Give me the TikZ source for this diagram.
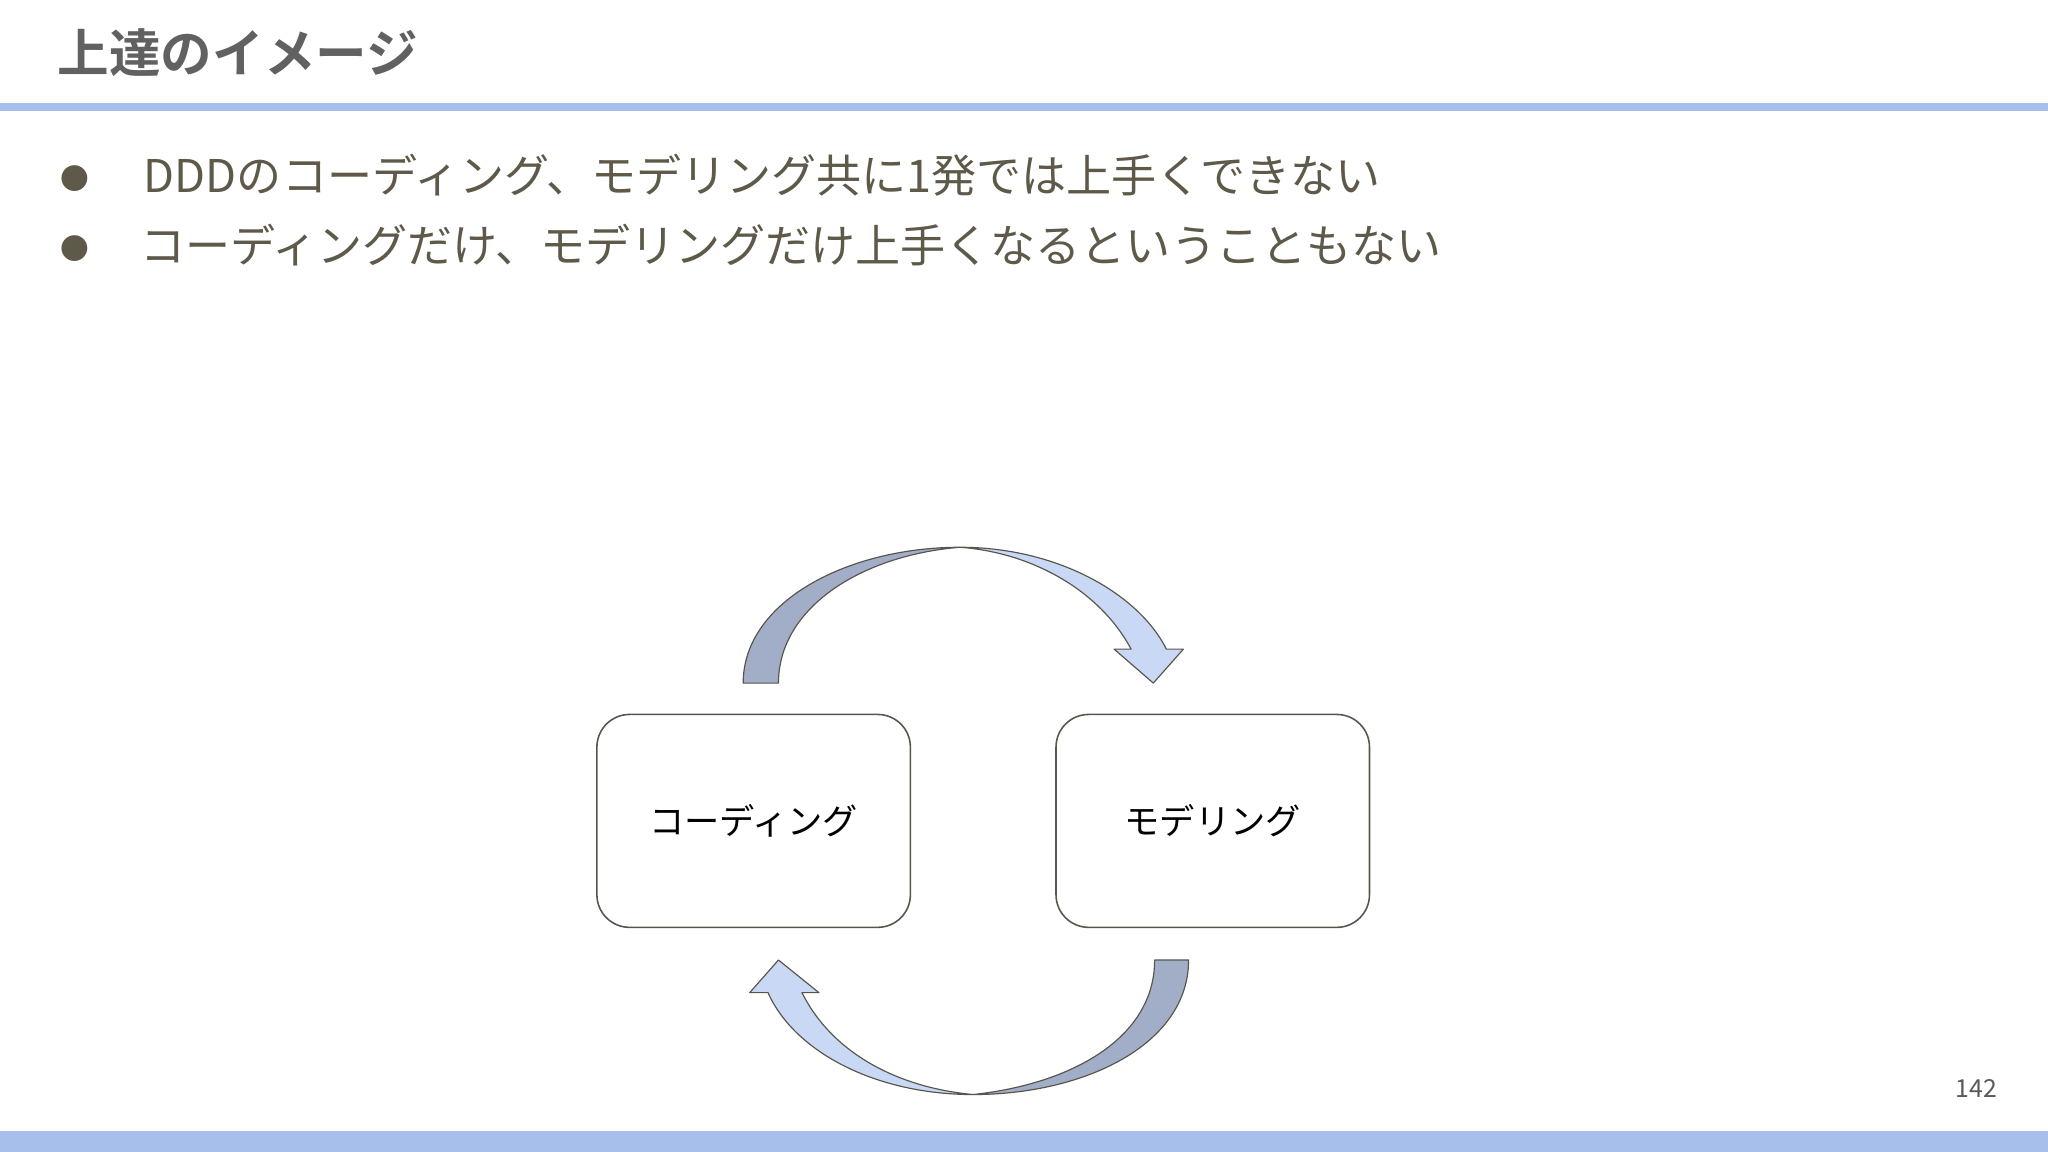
\documentclass[tikz,border=0pt]{standalone}
\usepackage{fontspec}
\setmainfont{Noto Sans CJK JP}
\newfontfamily\jpb{Noto Sans CJK JP Bold}
\definecolor{bar}{HTML}{A7BFEB}
\definecolor{txt}{HTML}{5E5948}
\definecolor{dk}{HTML}{A2AEC8}
\definecolor{lt}{HTML}{C9D9F5}
\definecolor{edge}{HTML}{58564C}
\begin{document}
\begin{tikzpicture}[x=1pt,y=-1pt,
  box/.style={draw=edge,line width=1.2pt,rounded corners=25pt,minimum width=240pt,minimum height=163pt,font=\fontsize{27}{30}\selectfont},
  bul/.style={anchor=west,text=txt,font=\fontsize{34.5}{38}\selectfont,inner sep=0},
  arr/.style={draw=edge,line width=0.9pt,line join=round}]
\useasboundingbox[fill=white] (0,0) rectangle (1568,882);
\node[anchor=west,text=black!62,inner sep=0,font=\jpb\fontsize{39.5}{44}\selectfont] (title) at (44,40) {上達のイメージ};
\fill[bar] (0,79) rectangle (1568,85);
\fill[bar] (0,866) rectangle (1568,882);
\node[text=txt,font=\fontsize{22}{26}\selectfont] (b1) at (57,137) {●};
\node[text=txt,font=\fontsize{22}{26}\selectfont] (b2) at (57,190) {●};
\node[bul] (t1) at (110,134) {DDDのコーディング、モデリング共に1発では上手くできない};
\node[bul] (t2) at (107,188) {コーディングだけ、モデリングだけ上手くなるということもない};
\node[text=black!65,font=\fontsize{19}{22}\selectfont] (pg) at (1513,833) {142};
\node[box] (c) at (577,628.5) {コーディング};
\node[box] (m) at (928.5,628.5) {モデリング};
% top arrow
\filldraw[arr,fill=dk] (569,523) .. controls (569,460) and (650,419) .. (735,419)
  .. controls (660,425) and (596,465) .. (596,523) -- cycle;
\filldraw[arr,fill=lt] (735,419) .. controls (810,419) and (872,455) .. (893,497)
  -- (906,497) -- (883,523) -- (853,497) -- (866,497)
  .. controls (842,452) and (790,423) .. (735,419) -- cycle;
% bottom arrow
\filldraw[arr,fill=dk] (910,735) .. controls (910,800) and (830,838) .. (745,838)
  .. controls (820,830) and (884,795) .. (884,735) -- cycle;
\filldraw[arr,fill=lt] (745,838) .. controls (670,838) and (608,805) .. (588,760)
  -- (574,760) -- (596,735) -- (627,760) -- (614,760)
  .. controls (638,808) and (690,833) .. (745,838) -- cycle;
\end{tikzpicture}
\end{document}
